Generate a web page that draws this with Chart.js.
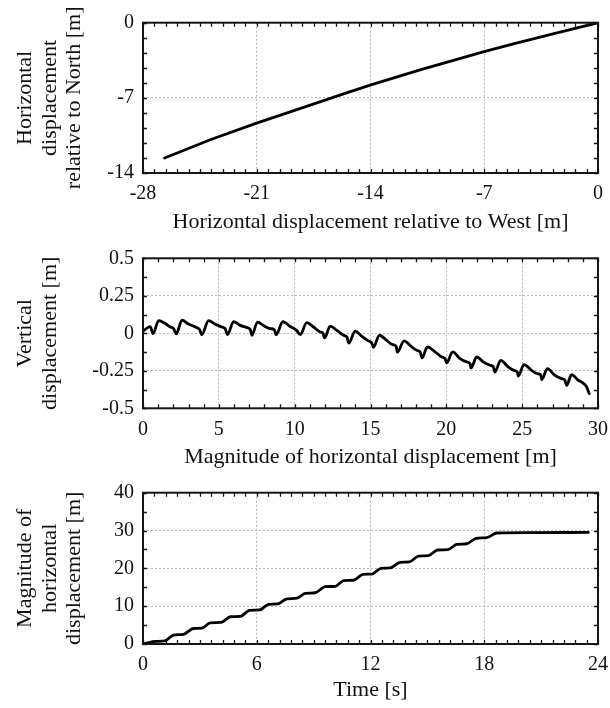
<!DOCTYPE html>
<html>
<head>
<meta charset="utf-8">
<script src="https://cdn.jsdelivr.net/npm/chart.js@4.4.1/dist/chart.umd.min.js"></script>
<style>
  html, body { margin: 0; padding: 0; background: #fff; }
  #wrap { position: relative; width: 610px; height: 708px; overflow: hidden; background: #fff; }
  #wrap canvas { position: absolute; left: 0; }
</style>
</head>
<body>
<div id="wrap">
  <canvas id="c1" width="610" height="235" style="top:0px"></canvas>
  <canvas id="c2" width="610" height="234" style="top:236px"></canvas>
  <canvas id="c3" width="610" height="238" style="top:470px"></canvas>
</div>
<script>
// ---- Track in the horizontal plane [m] ----
const westDisp  = [-26.67, -23.86, -21.01, -18.53, -15.66, -14.02, -10.95, -7.01, -5.21, -2.34, 0];
const northDisp = [-12.60, -10.90, -9.35, -8.10, -6.63, -5.82, -4.40, -2.69, -1.98, -0.88, 0];

// ---- Vertical displacement against horizontal distance [m] ----
const horizMag = [
  0.00, 0.48, 0.66, 1.03, 1.47, 1.80, 2.02, 2.19, 2.57, 3.00, 3.45, 3.73, 3.88,
  4.32, 4.76, 5.20, 5.42, 5.57, 5.97, 6.41, 6.85, 7.07, 7.18, 7.55, 7.99, 8.39,
  8.65, 8.78, 9.22, 9.70, 10.14, 10.36, 10.80, 11.24, 11.68, 11.86, 11.97, 12.34,
  12.78, 13.22, 13.44, 13.57, 13.99, 14.43, 14.86, 15.08, 15.19, 15.59, 16.07,
  16.40, 16.69, 16.77, 17.21, 17.72, 18.05, 18.27, 18.40, 18.75, 19.26, 19.70,
  19.92, 20.01, 20.42, 20.90, 21.34, 21.56, 21.63, 22.00, 22.44, 22.88, 23.10,
  23.21, 23.58, 24.08, 24.46, 24.68, 24.74, 25.12, 25.62, 26.00, 26.22, 26.30,
  26.65, 27.16, 27.60, 27.82, 27.93, 28.26, 28.70, 29.07, 29.25, 29.42
];
const vertDisp = [
  0.015, 0.045, -0.002, 0.085, 0.065, 0.042, 0.031, -0.004, 0.088, 0.062, 0.042, 0.025, -0.009,
  0.084, 0.060, 0.042, 0.031, -0.009, 0.078, 0.053, 0.038, 0.025, -0.013, 0.075, 0.049, 0.031,
  0.025, -0.009, 0.077, 0.045, 0.018, -0.009, 0.071, 0.042, 0.009, 0.002, -0.031, 0.048,
  0.020, -0.013, -0.024, -0.066, 0.015, -0.020, -0.051, -0.064, -0.093, -0.013, -0.047,
  -0.073, -0.087, -0.126, -0.050, -0.091, -0.113, -0.124, -0.164, -0.091, -0.124, -0.158,
  -0.169, -0.198, -0.124, -0.169, -0.191, -0.202, -0.231, -0.158, -0.191, -0.213, -0.224,
  -0.258, -0.180, -0.224, -0.247, -0.258, -0.286, -0.209, -0.247, -0.269, -0.276, -0.309,
  -0.236, -0.280, -0.302, -0.313, -0.347, -0.276, -0.313, -0.336, -0.358, -0.402
];

// ---- Horizontal distance against time ----
const timeS = [
  0, 0.38, 0.60, 1.15, 1.60, 2.14, 2.65, 3.11, 3.55, 4.12, 4.60, 5.13, 5.62, 6.15,
  6.62, 7.10, 7.59, 8.12, 8.56, 9.08, 9.61, 10.14, 10.58, 11.10, 11.60, 12.07, 12.55,
  13.04, 13.56, 14.05, 14.53, 15.06, 15.53, 16.08, 16.55, 17.08, 17.57, 18.13, 18.66,
  20.50, 23.49
];
const magDisp = [
  0, 0.45, 0.70, 0.80, 2.35, 2.55, 4.10, 4.20, 5.60, 5.70, 7.20, 7.30, 8.90, 9.00,
  10.50, 10.60, 11.95, 12.10, 13.40, 13.55, 15.15, 15.25, 16.75, 16.85, 18.40, 18.50, 20.00,
  20.10, 21.60, 21.70, 23.25, 23.35, 24.85, 24.95, 26.35, 26.50, 27.95, 28.10, 29.35,
  29.45, 29.50
];

// ---- Axis tick labels (major ticks only) ----
const westTicks  = [-28, -21, -14, -7, 0];
const northTicks = [-14, -7, 0];
const horizTicks = [0, 5, 10, 15, 20, 25, 30];
const vertTicks  = [-0.5, -0.25, 0, 0.25, 0.5];
const timeTicks  = [0, 6, 12, 18, 24];
const magTicks   = [0, 10, 20, 30, 40];

const SERIF = "'Liberation Serif', 'Times New Roman', serif";
Chart.defaults.font.family = SERIF;
Chart.defaults.color = '#111';

const pairs = (xs, ys) => xs.map((x, i) => ({ x, y: ys[i] }));
const near = (a, b) => Math.abs(a - b) < 1e-6;

// Linear axis with minor steps; labels and dotted grid lines on the major values only
function axis(majors, minorStep, extra) {
  const min = majors[0], max = majors[majors.length - 1];
  const isMajor = v => majors.some(m => near(m, v));
  return Object.assign({
    type: 'linear',
    min, max,
    border: { display: false, dash: [2, 2] },
    grid: {
      drawTicks: false,
      lineWidth: 1,
      color: c => (c.tick && isMajor(c.tick.value) && !near(c.tick.value, min) && !near(c.tick.value, max))
        ? '#b8b8b8' : 'rgba(0,0,0,0)'
    },
    ticks: {
      stepSize: minorStep,
      autoSkip: false,
      maxTicksLimit: 200,
      maxRotation: 0,
      padding: 9,
      color: '#111',
      font: { family: SERIF, size: 20 },
      callback: v => isMajor(v) ? String(+(+v).toFixed(4)) : ''
    }
  }, extra);
}

function yTitle(lines) {
  return { display: true, text: lines, color: '#111', font: { family: SERIF, size: 22, lineHeight: 1.12 }, padding: { top: 13, bottom: 0 } };
}
function xTitle(text, bottomPad) {
  return { display: true, text, color: '#111', font: { family: SERIF, size: 22, lineHeight: 1.12 }, padding: { top: 0, bottom: bottomPad } };
}

// Boxed frame with short inward tick marks on all four sides
const frameTicks = {
  id: 'frameTicks',
  afterDraw(chart) {
    const { ctx, chartArea: a, scales } = chart;
    const len = 4;
    ctx.save();
    ctx.strokeStyle = '#151515';
    ctx.lineWidth = 1.3;
    ctx.beginPath();
    scales.x.ticks.forEach(t => {
      const px = Math.round(scales.x.getPixelForValue(t.value)) + 0.5;
      ctx.moveTo(px, a.bottom); ctx.lineTo(px, a.bottom - len);
      ctx.moveTo(px, a.top); ctx.lineTo(px, a.top + len);
    });
    scales.y.ticks.forEach(t => {
      const py = Math.round(scales.y.getPixelForValue(t.value)) + 0.5;
      ctx.moveTo(a.left, py); ctx.lineTo(a.left + len, py);
      ctx.moveTo(a.right, py); ctx.lineTo(a.right - len, py);
    });
    ctx.stroke();
    ctx.lineWidth = 2;
    ctx.strokeRect(a.left, a.top, a.right - a.left, a.bottom - a.top);
    ctx.restore();
  }
};

function makeChart(id, data, xCfg, yCfg, pad, xHeight, smooth) {
  // fixed axis sizes so the three plot boxes line up; no extra label overhang padding
  xCfg.afterFit = s => { s.height = xHeight; s.paddingLeft = 0; s.paddingRight = 0; };
  yCfg.afterFit = s => { s.width = 143; s.paddingTop = 0; s.paddingBottom = 0; };
  return new Chart(document.getElementById(id), {
    type: 'line',
    data: {
      datasets: [{
        data,
        borderColor: '#000',
        borderWidth: 2.8,
        pointRadius: 0,
        fill: false,
        tension: 0,
        cubicInterpolationMode: smooth ? 'monotone' : 'default',
        borderJoinStyle: 'round',
        borderCapStyle: 'round'
      }]
    },
    options: {
      responsive: false,
      animation: false,
      devicePixelRatio: 1,
      layout: { padding: { left: 0, right: 12, top: pad, bottom: 0 } },
      plugins: { legend: { display: false }, tooltip: { enabled: false } },
      scales: { x: xCfg, y: yCfg }
    },
    plugins: [frameTicks]
  });
}

makeChart('c1', pairs(westDisp, northDisp),
  axis(westTicks, 0.7, { title: xTitle('Horizontal displacement relative to West [m]', 0) }),
  axis(northTicks, 1.4, { title: yTitle(['Horizontal', 'displacement', 'relative to North [m]']) }),
  22.7, 62, false);

makeChart('c2', pairs(horizMag, vertDisp),
  axis(horizTicks, 1, { title: xTitle('Magnitude of horizontal displacement [m]', 0) }),
  axis(vertTicks, 0.125, { title: yTitle(['Vertical', 'displacement [m]']) }),
  22.3, 61.7, true);

makeChart('c3', pairs(timeS, magDisp),
  axis(timeTicks, 0.6, { title: xTitle('Time [s]', 5) }),
  axis(magTicks, 5, { title: yTitle(['Magnitude of', 'horizontal', 'displacement [m]']) }),
  22.7, 64, true);
</script>
</body>
</html>
